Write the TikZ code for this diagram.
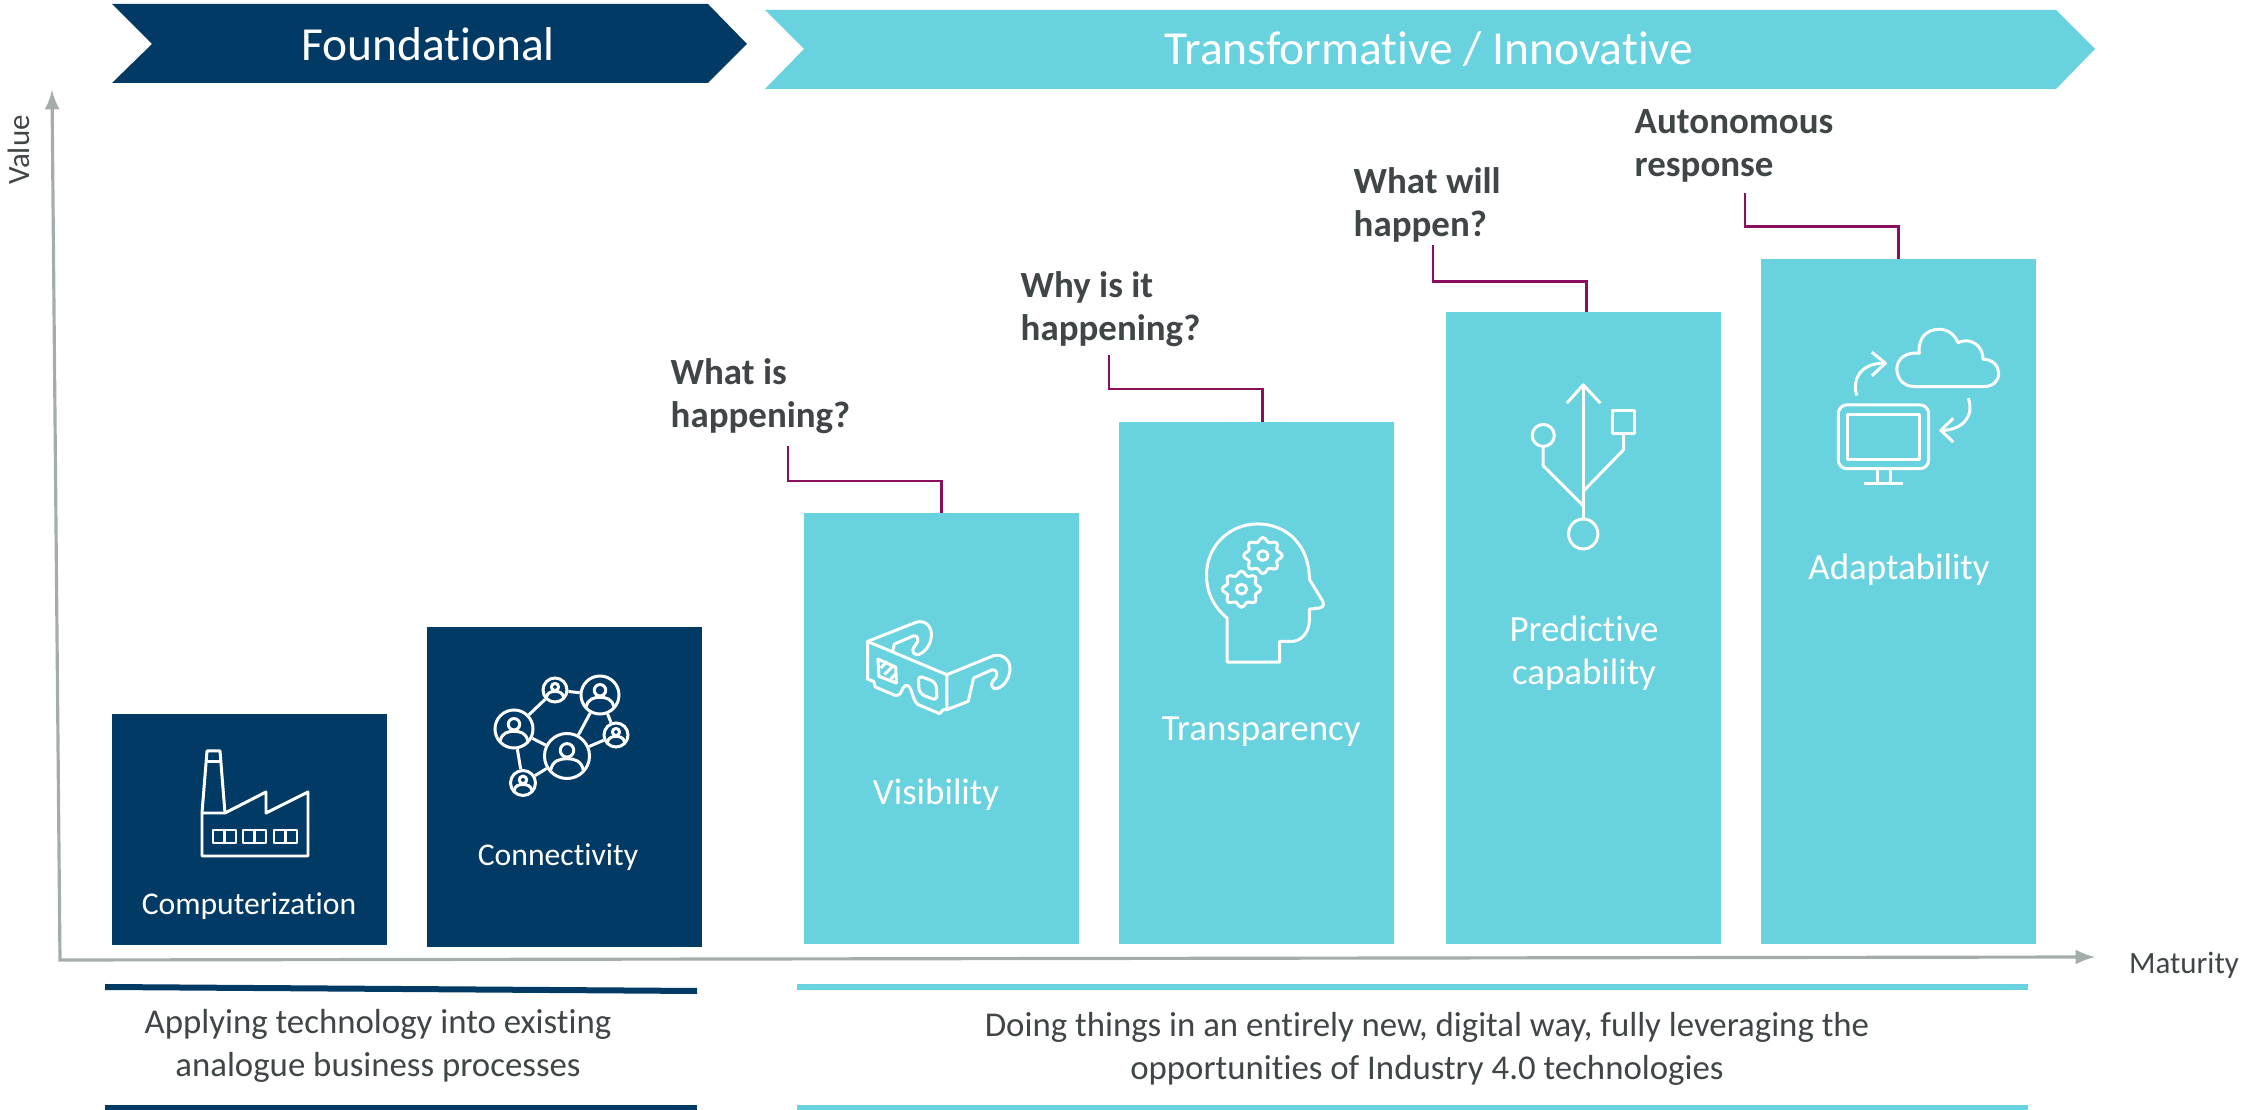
\documentclass[tikz,border=0pt]{standalone}
\usepackage{fontspec}
\setmainfont[Ligatures=NoCommon]{Carlito}
\usetikzlibrary{%
  calc,
}
\definecolor{navy}{HTML}{023A66}
\definecolor{aqua}{HTML}{68D2DF}
\definecolor{plum}{HTML}{8A0F5E}
\definecolor{slate}{HTML}{404547}
\definecolor{axisgray}{HTML}{A5ADAB}

\begin{document}
\begin{tikzpicture}[%
           x=0.01cm,
           y=-0.01cm,
           navybox/.style={
             % The shape:
             rectangle,
             minimum width=2.75cm,
             anchor=south west,
             inner sep=0pt,
             outer sep=0pt,
             % The filling:
             fill=navy,
           },
           aquabox/.style={
             navybox,
             fill=aqua,
           },
           boxlabel/.style={
             text=white,
             align=center,
             font=\fontsize{10.5pt}{12.2pt}\selectfont,
           },
           iconline/.style={
             draw=white,
             line width=0.85pt,
             line join=round,
           },
           hub/.style={
             circle,
             draw=white,
             line width=0.85pt,
             inner sep=0pt,
           },
           leader/.style={
             draw=plum,
             line width=0.65pt,
           },
           question/.style={
             text=slate,
             align=left,
             anchor=west,
             inner sep=0pt,
             font=\fontsize{10.5pt}{12.2pt}\selectfont\bfseries,
           },
           remark/.style={
             text=slate,
             align=center,
             font=\fontsize{9.9pt}{12pt}\selectfont,
           },
           axislabel/.style={
             text=slate,
             font=\fontsize{8.8pt}{10pt}\selectfont,
           },
           axis/.style={
             latex-latex,
             draw=axisgray,
             line width=0.9pt,
           },
           person/.pic={
             \draw[iconline] (0,-0.25) circle[radius=0.3];
             \draw[iconline] (-0.72,0.62) .. controls (-0.65,0.2) and (-0.3,0.12) .. (0,0.12) .. controls (0.3,0.12) and (0.65,0.2) .. (0.72,0.62);
           },
           gear/.pic={
             \draw[iconline] plot[smooth cycle, samples=48, domain=0:352.5] ({(1+0.13*cos(8*\x))*cos(\x)}, {(1+0.13*cos(8*\x))*sin(\x)});
             \draw[iconline] (0,0) circle[radius=0.3];
           },
         ]
         \useasboundingbox (0,0) rectangle (2247,1110);

         % The two banners:
         \fill[navy] (112,4) -- (708,4) -- (747,44) -- (708,83) -- (112,83) -- (152,44) -- cycle;
         \fill[aqua] (765,10) -- (2056,10) -- (2095,49) -- (2056,89) -- (765,89) -- (804,49) -- cycle;
         \node[text=white, font=\fontsize{13.5pt}{15pt}\selectfont] (foundational) at (428,44) {Foundational};
         \node[text=white, font=\fontsize{13.5pt}{15pt}\selectfont] (transformative) at (1429,49) {Transformative / Innovative};

         % The axes:
         \coordinate (origin) at (60,960);
         \coordinate (valueend) at (52,90);
         \coordinate (maturityend) at (2095,957);
         \draw[axis] (valueend) -- (origin) -- (maturityend);
         \node[axislabel, rotate=90] (value) at (19,150) {Value};
         \node[axislabel] (maturity) at (2184,965) {Maturity};

         % The columns:
         \node[navybox, minimum height=2.31cm] (computerization) at (112,945) {};
         \node[navybox, minimum height=3.2cm] (connectivity) at (427,947) {};
         \node[aquabox, minimum height=4.31cm] (visibility) at (804,944) {};
         \node[aquabox, minimum height=5.22cm] (transparency) at (1119,944) {};
         \node[aquabox, minimum height=6.32cm] (predictive) at (1446,944) {};
         \node[aquabox, minimum height=6.85cm] (adaptability) at (1761,944) {};

         \node[boxlabel, font=\fontsize{9pt}{11pt}\selectfont] (computerizationtext) at (249,906) {Computerization};
         \node[boxlabel, font=\fontsize{9pt}{11pt}\selectfont] (connectivitytext) at (558,857) {Connectivity};
         \node[boxlabel] (visibilitytext) at (936,795) {Visibility};
         \node[boxlabel] (transparencytext) at (1261,732) {Transparency};
         \node[boxlabel] (predictivetext) at (1584,653) {Predictive\\capability};
         \node[boxlabel] (adaptabilitytext) at (1899,570) {Adaptability};

         % The questions:
         \node[question] (whatis) at (670,396) {What is\\happening?};
         \node[question] (whyis) at (1020,309) {Why is it\\happening?};
         \node[question] (whatwill) at (1353,205) {What will\\happen?};
         \node[question] (autonomous) at (1634,146) {Autonomous\\response};
         \coordinate (whatisend) at (788,446);
         \coordinate (whyisend) at (1109,355);
         \coordinate (whatwillend) at (1433,245);
         \coordinate (autonomousend) at (1745,193);

         \draw[leader] (visibility.north) -- ++(0,-32) -| (whatisend);
         \draw[leader] ($ (transparency.north) + (6,0) $) -- ++(0,-33) -| (whyisend);
         \draw[leader] ($ (predictive.north) + (3,0) $) -- ++(0,-30) -| (whatwillend);
         \draw[leader] (adaptability.north) -- ++(0,-32) -| (autonomousend);

         % The bottom remarks:
         \fill[navy] (105,984) -- (697,988) -- (697,994) -- (105,990) -- cycle;
         \fill[navy] (105,1105) rectangle (697,1110);
         \fill[aqua] (797,984) rectangle (2028,990);
         \fill[aqua] (797,1105) rectangle (2028,1110);
         \node[remark] (applying) at (378,1046) {Applying technology into existing\\analogue business processes};
         \node[remark] (doing) at (1427,1049) {Doing things in an entirely new, digital way, fully leveraging the\\opportunities of Industry 4.0 technologies};

         % Factory
         \draw[iconline] (202,813) -- (202,856) -- (308,856) -- (308,792) -- (266,813) -- (266,792) -- (225,813) -- cycle;
         \draw[iconline] (202,813) -- (207,751) -- (220,751) -- (225,813);
         \draw[iconline] (206,762) -- (221,762);
         \draw[iconline] (213,830) rectangle (236,843) (224.5,830) -- (224.5,843);
         \draw[iconline] (243,830) rectangle (266,843) (254.5,830) -- (254.5,843);
         \draw[iconline] (274,830) rectangle (297,843) (285.5,830) -- (285.5,843);

         % People network
         \node[hub, minimum size=3.8mm] (userleft) at (514,729) {};
         \node[hub, minimum size=2.4mm] (usertop) at (555,690) {};
         \node[hub, minimum size=3.8mm] (userright) at (600,695) {};
         \node[hub, minimum size=2.4mm] (userfar) at (616,735) {};
         \node[hub, minimum size=4.5mm] (usermid) at (567,756) {};
         \node[hub, minimum size=2.5mm] (userlow) at (523,783) {};
         \pic[scale=19] at (userleft) {person};
         \pic[scale=12] at (usertop) {person};
         \pic[scale=19] at (userright) {person};
         \pic[scale=12] at (userfar) {person};
         \pic[scale=22.5] at (usermid) {person};
         \pic[scale=12.5] at (userlow) {person};
         \draw[iconline] (userleft) -- (usertop);
         \draw[iconline] (usertop) -- (userright);
         \draw[iconline] (userright) -- (usermid);
         \draw[iconline] (userright) -- (userfar);
         \draw[iconline] (userfar) -- (usermid);
         \draw[iconline] (userleft) -- (usermid);
         \draw[iconline] (userleft) -- (userlow);
         \draw[iconline] (userlow) -- (usermid);

         \begin{scope}[shift={(820,500)}, x=0.00357cm, y=-0.00333cm]
           % 3D glasses
           \draw[iconline] (133,425) -- (355,525) -- (355,630) -- (345,630) -- (335,642) -- (275,615) .. controls (262,605) and (262,590) .. (255,572) .. controls (250,555) and (240,552) .. (232,565) .. controls (228,578) and (222,590) .. (210,587) -- (155,562) -- (150,545) -- (133,538) -- cycle;
           \draw[iconline] (162,478) -- (212,502) -- (214,550) -- (165,530) -- cycle;
           \draw[iconline] (170,505) -- (188,485) (180,525) -- (205,498) (198,538) -- (212,522);
           \draw[iconline, rounded corners=1.5pt] (275,527) -- (325,548) -- (328,603) -- (278,582) -- cycle;
           \draw[iconline] (355,525) -- (485,468) .. controls (515,460) and (533,485) .. (532,510) .. controls (530,540) and (510,568) .. (488,567) .. controls (475,560) and (480,545) .. (492,535) .. controls (498,525) and (495,508) .. (482,510) -- (430,535) -- (415,605) -- (355,630);
           \draw[iconline] (133,425) -- (270,367) .. controls (295,360) and (312,380) .. (312,405) .. controls (312,435) and (290,465) .. (270,465) .. controls (255,460) and (258,445) .. (268,435) .. controls (278,425) and (275,405) .. (262,408) -- (208,433) -- (203,458);

           % Head with gears
           \draw[iconline] (1140,355) .. controls (1100,320) and (1082,275) .. (1082,225) .. controls (1082,140) and (1145,72) .. (1225,72) .. controls (1310,72) and (1370,140) .. (1370,238) -- (1408,305) .. controls (1412,318) and (1405,325) .. (1395,325) -- (1370,328) -- (1370,360) .. controls (1370,400) and (1345,425) .. (1320,425) -- (1287,425) -- (1287,487) -- (1140,487) -- cycle;
           \pic[scale=48] at (1240,167) {gear};
           \pic[scale=48] at (1180,268) {gear};
         \end{scope}

         \begin{scope}[shift={(1480,300)}, x=0.00357cm, y=-0.00333cm]
           % USB symbol
           \draw[iconline] (289,255) -- (289,658);
           \draw[iconline] (243,310) -- (289,255) -- (337,310);
           \draw[iconline] (289,703) circle[x radius=41, y radius=45];
           \draw[iconline] (289,618) -- (177,498) -- (177,440);
           \draw[iconline] (177,407) circle[x radius=31, y radius=33];
           \draw[iconline] (289,575) -- (402,450) -- (402,400);
           \draw[iconline] (372,332) rectangle (433,400);

           % Monitor and cloud
           \draw[iconline, rounded corners=2.5pt] (1003,315) rectangle (1256,507);
           \draw[iconline] (1028,343) rectangle (1230,480);
           \draw[iconline] (1113,507) -- (1113,548) (1150,507) -- (1150,548);
           \draw[iconline] (1075,552) -- (1185,552);
           \draw[iconline] (1215,260) .. controls (1185,260) and (1167,235) .. (1167,207) .. controls (1167,175) and (1195,155) .. (1230,160) .. controls (1225,115) and (1250,88) .. (1285,88) .. controls (1310,88) and (1330,105) .. (1338,128) .. controls (1375,110) and (1410,140) .. (1408,178) .. controls (1435,178) and (1452,198) .. (1452,220) .. controls (1452,245) and (1435,260) .. (1410,260) -- cycle;
           \draw[iconline] (1055,287) .. controls (1040,240) and (1065,190) .. (1130,190);
           \draw[iconline] (1097,157) -- (1135,190) -- (1097,228);
           \draw[iconline] (1367,295) .. controls (1385,350) and (1350,392) .. (1290,392);
           \draw[iconline] (1325,355) -- (1290,392) -- (1325,427);
         \end{scope}
       \end{tikzpicture}
\end{document}
